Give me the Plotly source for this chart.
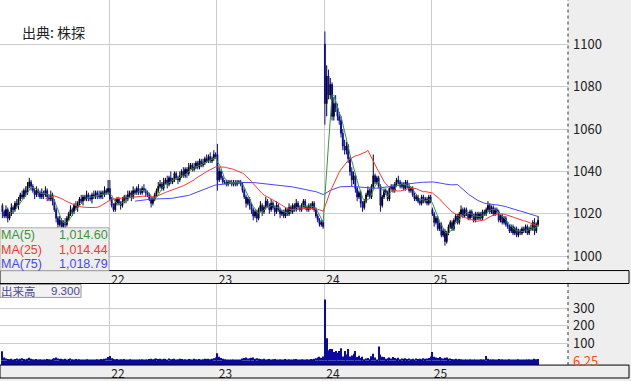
import plotly.graph_objects as go
import pandas as pd

# ---------------- data (5-minute bars, 60 per trading day) ----------------
day_labels = ["22", "23", "24", "25"]
bars_per_day = 60
price_ticks = [1000, 1020, 1040, 1060, 1080, 1100]
vol_ticks = [100, 200, 300]
vol_min_label = "6.25"

open_21 = [1024,1021,1019,1022,1018,1020,1023,1022,1025,1024, 1027,1029,1028,1031,1030,1033,1035,1033,1031,1029,
           1031,1030,1028,1030,1029,1031,1028,1027,1029,1026, 1022,1018,1015,1017,1014,1016,1015,1018,1020,1022,
           1021,1024,1023,1025,1027,1026,1028,1027,1029,1028, 1027,1029,1028,1030,1029,1028,1030,1029,1031,1030]
high_21 = [1025,1022,1024,1023,1021,1025,1024,1026,1027,1028, 1030,1031,1032,1033,1035,1037,1036,1034,1032,1033,
           1032,1031,1032,1031,1033,1032,1029,1031,1030,1027, 1023,1019,1019,1018,1017,1018,1019,1021,1024,1023,
           1025,1026,1026,1028,1029,1029,1029,1031,1030,1029, 1030,1031,1031,1031,1031,1031,1031,1033,1032,1036]
low_21 = [1018,1018,1018,1016,1017,1019,1020,1021,1023,1022, 1026,1027,1027,1028,1029,1032,1031,1030,1027,1028,
          1028,1027,1027,1027,1028,1026,1026,1026,1024,1021, 1016,1013,1014,1013,1013,1013,1014,1017,1019,1019,
          1020,1022,1021,1024,1025,1024,1026,1026,1026,1026, 1025,1027,1027,1027,1027,1027,1027,1028,1029,1029]
close_21 = [1021,1019,1022,1018,1020,1023,1022,1025,1024,1027, 1029,1028,1031,1030,1033,1035,1033,1031,1029,1031,
            1030,1028,1030,1029,1031,1028,1027,1029,1026,1022, 1018,1015,1017,1014,1016,1015,1018,1020,1022,1021,
            1024,1023,1025,1027,1026,1028,1027,1029,1028,1027, 1029,1028,1030,1029,1028,1030,1029,1031,1030,1032]

open_22 = [1032,1027,1024,1022,1025,1027,1025,1024,1026,1028, 1027,1029,1030,1028,1031,1030,1032,1031,1030,1032,
           1031,1030,1029,1027,1025,1027,1029,1031,1033,1034, 1032,1035,1036,1034,1037,1035,1036,1039,1037,1036,
           1038,1040,1038,1041,1039,1042,1043,1041,1042,1044, 1042,1045,1043,1044,1046,1045,1047,1045,1046,1048]
high_22 = [1036,1028,1025,1027,1028,1028,1026,1028,1029,1029, 1031,1031,1031,1033,1032,1033,1034,1032,1033,1034,
           1032,1031,1030,1028,1028,1030,1032,1035,1036,1035, 1037,1037,1038,1038,1040,1037,1040,1040,1038,1040,
           1041,1042,1042,1042,1044,1044,1044,1044,1045,1045, 1046,1046,1046,1047,1048,1048,1049,1047,1050,1049]
low_22 = [1026,1023,1021,1021,1024,1024,1022,1023,1025,1025, 1026,1028,1026,1027,1029,1029,1029,1029,1029,1030,
          1028,1028,1026,1023,1024,1026,1028,1030,1032,1031, 1031,1034,1032,1033,1034,1034,1035,1036,1034,1035,
          1037,1037,1037,1037,1038,1041,1040,1040,1041,1041, 1041,1042,1042,1043,1044,1044,1044,1044,1045,1046]
close_22 = [1027,1024,1022,1025,1027,1025,1024,1026,1028,1027, 1029,1030,1028,1031,1030,1032,1031,1030,1032,1031,
            1030,1029,1027,1025,1027,1029,1031,1033,1034,1032, 1035,1036,1034,1037,1035,1036,1039,1037,1036,1038,
            1040,1038,1041,1039,1042,1043,1041,1042,1044,1042, 1045,1043,1044,1046,1045,1047,1045,1046,1048,1047]

open_23 = [1048,1036,1040,1037,1035,1035,1034,1035,1035,1034, 1035,1034,1035,1035,1034,1031,1028,1025,1027,1024,
           1022,1019,1021,1018,1022,1024,1021,1023,1026,1024, 1022,1025,1023,1021,1024,1022,1020,1021,1019,1022,
           1020,1023,1021,1024,1022,1025,1023,1022,1024,1026, 1023,1022,1024,1023,1025,1022,1019,1017,1015,1016]
high_23 = [1053,1042,1041,1038,1036,1036,1036,1036,1036,1036, 1036,1036,1036,1036,1035,1032,1029,1028,1028,1025,
           1023,1022,1022,1023,1026,1025,1024,1028,1027,1025, 1027,1026,1024,1026,1025,1023,1022,1022,1023,1023,
           1025,1024,1025,1025,1027,1026,1024,1025,1027,1027, 1024,1025,1025,1026,1026,1023,1020,1018,1017,1017]
low_23 = [1031,1035,1036,1034,1034,1033,1033,1034,1033,1033, 1033,1033,1034,1033,1030,1027,1023,1024,1022,1020,
          1017,1018,1016,1017,1021,1019,1020,1022,1023,1020, 1021,1022,1019,1020,1021,1018,1019,1018,1018,1019,
          1019,1020,1020,1021,1021,1022,1021,1021,1023,1022, 1021,1021,1022,1022,1021,1018,1016,1014,1014,1013]
close_23 = [1036,1040,1037,1035,1035,1034,1035,1035,1034,1035, 1034,1035,1035,1034,1031,1028,1025,1027,1024,1022,
            1019,1021,1018,1022,1024,1021,1023,1026,1024,1022, 1025,1023,1021,1024,1022,1020,1021,1019,1022,1020,
            1023,1021,1024,1022,1025,1023,1022,1024,1026,1023, 1022,1024,1023,1025,1022,1019,1017,1015,1016,1014]

open_24 = [1100,1072,1085,1076,1081,1066,1072,1070,1066,1064, 1058,1052,1050,1052,1046,1040,1036,1038,1032,1028,
           1030,1025,1023,1026,1029,1031,1028,1033,1038,1035, 1037,1033,1024,1028,1031,1030,1027,1032,1033,1031,
           1034,1036,1035,1033,1034,1032,1035,1033,1031,1032, 1029,1027,1028,1026,1025,1028,1026,1027,1025,1028]
high_24 = [1106,1090,1088,1084,1082,1075,1076,1072,1068,1066, 1060,1055,1054,1053,1047,1042,1040,1039,1033,1031,
           1031,1026,1027,1030,1033,1032,1034,1048,1039,1038, 1038,1034,1029,1032,1032,1031,1033,1034,1034,1035,
           1037,1038,1036,1035,1035,1036,1036,1034,1033,1033, 1030,1029,1029,1027,1029,1029,1028,1028,1029,1029]
low_24 = [1062,1066,1074,1074,1064,1064,1068,1064,1062,1056, 1050,1048,1048,1044,1038,1033,1034,1030,1026,1027,
          1023,1021,1022,1025,1028,1027,1027,1032,1034,1034, 1032,1021,1023,1027,1029,1026,1026,1031,1030,1030,
          1033,1034,1032,1032,1031,1031,1032,1030,1030,1028, 1026,1026,1025,1024,1024,1025,1025,1024,1024,1025]
close_24 = [1072,1085,1076,1081,1066,1072,1070,1066,1064,1058, 1052,1050,1052,1046,1040,1036,1038,1032,1028,1030,
            1025,1023,1026,1029,1031,1028,1033,1038,1035,1037, 1033,1024,1028,1031,1030,1027,1032,1033,1031,1034,
            1036,1035,1033,1034,1032,1035,1033,1031,1032,1029, 1027,1028,1026,1025,1028,1026,1027,1025,1028,1026]

open_25 = [1022,1020,1016,1018,1013,1015,1010,1012,1007,1011, 1014,1016,1013,1017,1019,1016,1020,1022,1019,1022,
           1020,1018,1021,1019,1017,1020,1018,1020,1018,1021, 1020,1022,1024,1021,1023,1020,1022,1021,1017,1019,
           1016,1018,1015,1014,1012,1014,1011,1013,1010,1012, 1011,1013,1012,1014,1011,1013,1013,1016,1012,1015]
high_25 = [1023,1021,1019,1019,1016,1016,1013,1013,1012,1015, 1017,1017,1018,1020,1020,1021,1024,1023,1023,1023,
           1021,1022,1022,1020,1021,1021,1021,1021,1022,1022, 1023,1026,1025,1024,1024,1023,1023,1022,1020,1020,
           1019,1019,1016,1015,1015,1015,1014,1014,1013,1013, 1014,1014,1015,1015,1014,1015,1017,1018,1016,1019]
low_25 = [1019,1014,1015,1012,1012,1009,1009,1005,1006,1010, 1013,1012,1012,1016,1015,1015,1019,1018,1018,1019,
          1017,1017,1018,1016,1016,1017,1017,1017,1017,1019, 1019,1021,1020,1020,1019,1019,1020,1016,1016,1015,
          1015,1014,1013,1011,1011,1010,1010,1009,1009,1010, 1010,1011,1011,1010,1010,1012,1012,1010,1011,1014]
close_25 = [1020,1016,1018,1013,1015,1010,1012,1007,1011,1014, 1016,1013,1017,1019,1016,1020,1022,1019,1022,1020,
            1018,1021,1019,1017,1020,1018,1020,1018,1021,1020, 1022,1024,1021,1023,1020,1022,1021,1017,1019,1016,
            1018,1015,1014,1012,1014,1011,1013,1010,1012,1011, 1013,1012,1014,1011,1013,1013,1016,1012,1015,1017]

# volume (thousand shares)
vol_21 = [54,18,12,9,8,10,7,9,12,8, 10,14,9,7,11,16,10,8,6,9, 7,8,6,5,7,9,8,6,10,14,
          18,12,9,11,8,10,7,9,12,8, 7,9,6,8,7,5,6,8,7,6, 5,7,6,8,7,9,8,10,12,20]
vol_22 = [26,14,10,8,9,7,8,6,9,7, 6,8,5,7,6,5,7,6,8,5, 6,7,9,11,8,10,12,9,11,8,
          10,9,7,12,8,9,11,7,8,10, 9,7,8,6,9,8,7,10,8,6, 9,7,8,10,9,11,8,10,13,18]
vol_23 = [42,22,15,10,8,6,5,6,5,7, 5,6,5,6,12,15,18,12,14,16, 18,11,13,10,9,8,10,7,8,9,
          7,8,9,6,7,8,6,7,9,6, 8,7,6,8,9,7,6,8,7,6, 8,7,9,8,10,14,18,22,16,24]
vol_24 = [351,129,60,67,66,49,55,45,55,71, 24,55,35,67,24,30,40,55,20,28, 15,22,8,12,15,8,25,40,18,5,
          81,35,22,20,10,14,18,12,20,15, 10,16,8,12,10,14,9,12,8,10, 7,12,9,11,8,13,10,12,15,24]
vol_25 = [49,22,18,15,20,14,12,16,18,10, 12,9,8,10,7,9,8,6,7,5, 6,8,5,6,7,5,6,8,6,7,
          27,10,7,6,8,5,7,9,6,8, 7,5,6,8,6,7,5,6,8,5, 6,7,5,6,8,6,7,10,8,9.3]

opens = open_21 + open_22 + open_23 + open_24 + open_25
highs = high_21 + high_22 + high_23 + high_24 + high_25
lows = low_21 + low_22 + low_23 + low_24 + low_25
closes = close_21 + close_22 + close_23 + close_24 + close_25
volumes = vol_21 + vol_22 + vol_23 + vol_24 + vol_25
idx = list(range(len(closes)))

cs = pd.Series(closes, dtype=float)
ma5 = cs.rolling(5).mean()
ma25 = cs.rolling(25).mean()
ma75 = cs.rolling(75).mean()

# ---------------- layout constants (pixels) ----------------
W, H = 631, 381
PLOT_R = 568
P_TOP, P_BOT = 0, 272
V_TOP, V_BOT = 285, 367
FONT = "Noto Sans CJK JP"
LATIN = "Liberation Sans"
GRID = "#cccccc"
UP = "#000000"
DOWN = "#0a0a9e"
C5, C25, C75 = "#37953a", "#ff3434", "#4646ff"

bar_px = 107.5 / bars_per_day
x_left = -0.5 - 1.5 / bar_px
x_right = x_left + PLOT_R / bar_px
day_ticks = [bars_per_day * k - 0.5 for k in range(1, 5)]

VOL_LO, VOL_HI = -25.7, 443.0


def px(xp):
    return xp / W


def py(yp):
    return 1 - yp / H


fig = go.Figure()
fig.add_trace(go.Candlestick(
    x=idx, open=opens, high=highs, low=lows, close=closes,
    increasing=dict(line=dict(color=UP, width=1), fillcolor=UP),
    decreasing=dict(line=dict(color=DOWN, width=1), fillcolor=DOWN),
    whiskerwidth=0, hoverinfo="skip", xaxis="x", yaxis="y"))
for s, c in [(ma75, C75), (ma25, C25), (ma5, C5)]:
    fig.add_trace(go.Scatter(x=idx, y=s, mode="lines", line=dict(color=c, width=1),
                             hoverinfo="skip", xaxis="x", yaxis="y"))

# volume bars drawn from the bottom of the panel
fig.add_trace(go.Bar(x=idx, y=[VOL_LO] * len(idx), marker=dict(color=DOWN, line=dict(width=0)),
                     width=0.6, hoverinfo="skip", xaxis="x2", yaxis="y2"))
fig.add_trace(go.Bar(x=idx, y=volumes, marker=dict(color=DOWN, line=dict(width=0)),
                     width=0.6, hoverinfo="skip", xaxis="x2", yaxis="y2"))

xcommon = dict(domain=[0, PLOT_R / W], range=[x_left, x_right], tickvals=day_ticks,
               ticktext=day_labels, showgrid=True, gridcolor=GRID, gridwidth=1,
               zeroline=False, showline=False, ticks="", ticklabelshift=9,
               tickfont=dict(family=FONT, size=12, color="#222222"), fixedrange=True)

fig.update_layout(
    width=W, height=H, autosize=False,
    margin=dict(l=0, r=0, t=0, b=0, pad=0),
    paper_bgcolor="#eeeeee", plot_bgcolor="#ffffff",
    barmode="relative", showlegend=False,
    font=dict(family=FONT, size=12, color="#222222"),
    xaxis=dict(**xcommon, anchor="y", rangeslider=dict(visible=False)),
    xaxis2=dict(**xcommon, anchor="y2", matches="x"),
    yaxis=dict(domain=[py(P_BOT), py(P_TOP)], range=[993.3, 1120.8], side="right",
               tickvals=price_ticks, showgrid=True, gridcolor=GRID, zeroline=False,
               ticks="", ticklabelstandoff=4, tickfont=dict(size=13, color="#222222"),
               anchor="x", fixedrange=True),
    yaxis2=dict(domain=[py(V_BOT), py(V_TOP)], range=[VOL_LO, VOL_HI], side="right",
                tickvals=vol_ticks, showgrid=True, gridcolor=GRID, zeroline=False,
                ticks="", ticklabelstandoff=4, tickfont=dict(size=13, color="#222222"),
                anchor="x2", fixedrange=True),
)

shapes = []
# axis bands frames
for y0, y1 in [(P_BOT, V_TOP), (V_BOT, 380)]:
    shapes.append(dict(type="rect", xref="paper", yref="paper", x0=0, x1=px(629),
                       y0=py(y1), y1=py(y0), line=dict(color="#000000", width=1),
                       fillcolor="rgba(0,0,0,0)", layer="above"))
# dotted separators at right of plot area
for y0, y1 in [(P_TOP, P_BOT), (V_TOP, V_BOT)]:
    shapes.append(dict(type="line", xref="paper", yref="paper", x0=px(PLOT_R), x1=px(PLOT_R),
                       y0=py(y1), y1=py(y0), line=dict(color="#333333", width=1, dash="dot"),
                       layer="above"))
# MA legend box
shapes.append(dict(type="rect", xref="paper", yref="paper", x0=px(0), x1=px(109),
                   y0=py(P_BOT), y1=py(229), line=dict(color="#aaaaaa", width=1),
                   fillcolor="#eeeeee", layer="above"))
# volume label box
shapes.append(dict(type="rect", xref="paper", yref="paper", x0=px(0), x1=px(81),
                   y0=py(299), y1=py(286), line=dict(color="#999999", width=1),
                   fillcolor="#f2f2f2", layer="above"))
fig.update_layout(shapes=shapes)

ann = []


def add_text(text, xp, yp, color, size, anchor="left", family=FONT):
    ann.append(dict(text=text, xref="paper", yref="paper", x=px(xp), y=py(yp),
                    xanchor=anchor, yanchor="middle", showarrow=False, borderpad=0,
                    font=dict(family=family, size=size, color=color)))


add_text("出典: 株探", 21, 32, "#222222", 14)
legend_rows = [("MA(5)", ma5.iloc[-1], C5, 236.5), ("MA(25)", ma25.iloc[-1], C25, 251),
               ("MA(75)", ma75.iloc[-1], C75, 265.5)]
for name, val, col, yy in legend_rows:
    add_text(name, 0, yy, col, 12.5, family=LATIN)
    add_text(f"{val:,.2f}", 109, yy, col, 12.5, anchor="right", family=LATIN)
add_text("出来高", 0, 292.5, "#4848a0", 11.5)
add_text(f"{volumes[-1]:.3f}", 81, 292.5, "#4848a0", 11.5, anchor="right", family=LATIN)
add_text(vol_min_label, 572, 362, "#ff4a1a", 13)
fig.update_layout(annotations=ann)

fig.write_html("out.html", config={"displayModeBar": False},
               post_script="document.body.style.margin='0px';")
